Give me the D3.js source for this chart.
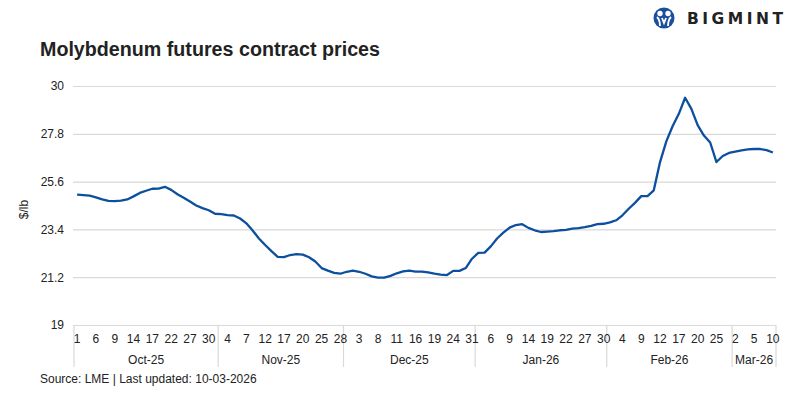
<!DOCTYPE html>
<html>
<head>
<meta charset="utf-8">
<script src="https://cdn.jsdelivr.net/npm/d3@7"></script>
<style>
  body { margin: 0; background: #fff; }
  svg text { font-family: "Liberation Sans", Arial, sans-serif; fill: #222; }
</style>
</head>
<body>
<figure id="chart" style="margin:0"></figure>
<script>
// month groups on the category axis and the LME trading days in each
const months = ["Oct-25", "Nov-25", "Dec-25", "Jan-26", "Feb-26", "Mar-26"];
const monthDays = [
  [1,2,3,6,7,8,9,10,13,14,15,16,17,20,21,22,23,24,27,28,29,30,31],
  [3,4,5,6,7,10,11,12,13,14,17,18,19,20,21,24,25,26,27,28],
  [1,2,3,4,5,8,9,10,11,12,15,16,17,18,19,22,23,24,29,30,31],
  [2,5,6,7,8,9,12,13,14,15,16,19,20,21,22,23,26,27,28,29,30],
  [2,3,4,5,6,9,10,11,12,13,16,17,18,19,20,23,24,25,26,27],
  [2,3,4,5,6,9,10]
];

// $/lb, one per trading day
const prices = [
  25.00,24.98,24.95,24.87,24.78,24.71,24.70,24.72,24.78,24.92,25.08,25.18,25.27,25.28,25.36,25.22,
  25.02,24.86,24.68,24.50,24.38,24.28,24.12,
  24.10,24.06,24.04,23.90,23.68,23.35,22.98,22.68,22.40,22.14,22.12,22.22,22.26,22.24,22.12,21.92,
  21.62,21.50,21.40,21.36,
  21.45,21.50,21.45,21.36,21.24,21.18,21.18,21.26,21.38,21.47,21.50,21.46,21.46,21.42,21.36,21.32,
  21.30,21.49,21.49,21.62,22.05,
  22.32,22.33,22.62,22.98,23.25,23.48,23.60,23.64,23.47,23.36,23.28,23.30,23.32,23.36,23.38,23.44,
  23.46,23.50,23.56,23.64,23.66,
  23.72,23.82,24.05,24.35,24.62,24.93,24.93,25.20,26.50,27.45,28.15,28.72,29.46,28.95,28.20,27.72,
  27.40,26.50,26.78,26.92,
  26.98,27.04,27.08,27.10,27.10,27.05,26.94
];

const yTicks = [19, 21.2, 23.4, 25.6, 27.8, 30];

const width = 800, height = 399;
const plotLeft = 74, plotRight = 776, plotTop = 86, plotBottom = 325;

// flatten month groups into one category list
var data = [];
var monthStart = [];
monthDays.forEach(function(ds, m) {
  monthStart.push(data.length);
  ds.forEach(function(d) {
    data.push({ month: m, day: d, i: data.length, price: prices[data.length] });
  });
});
monthStart.push(data.length);

const svg = d3.select("figure#chart")
  .append("svg")
  .attr("width", width)
  .attr("height", height);

const x = d3.scaleBand()
  .domain(d3.range(data.length))
  .range([plotLeft, plotRight]);

const y = d3.scaleLinear()
  .domain([19, 30])
  .range([plotBottom, plotTop]);

// horizontal gridlines
svg.append("g")
  .attr("transform", "translate(" + (plotLeft - 1) + ",0)")
  .call(d3.axisLeft(y).tickValues(yTicks).tickSize(-(plotRight - plotLeft + 1)).tickFormat(""))
  .call(g => g.select(".domain").remove())
  .selectAll("line")
  .attr("stroke", "#d9d9d9")
  .attr("stroke-width", 1.2);

// y tick labels
svg.append("g")
  .attr("transform", "translate(" + (plotLeft - 1) + ",0)")
  .call(d3.axisLeft(y).tickValues(yTicks).tickSize(0).tickPadding(9).tickFormat(d => d))
  .call(g => g.select(".domain").remove())
  .selectAll("text")
  .style("font-size", "12px")
  .attr("fill", "#222");

svg.append("text")
  .attr("transform", "translate(28," + ((plotTop + plotBottom) / 2 + 4) + ") rotate(-90)")
  .attr("text-anchor", "middle")
  .style("font-size", "12px")
  .text("$/lb");

// category axis: month separators
svg.selectAll(".sep")
  .data(monthStart)
  .enter()
  .append("line")
  .attr("x1", d => d < data.length ? x(d) : plotRight)
  .attr("x2", d => d < data.length ? x(d) : plotRight)
  .attr("y1", plotBottom)
  .attr("y2", 367)
  .attr("stroke", "#d9d9d9")
  .attr("stroke-width", 1.2);

// day labels, every third trading day
svg.selectAll(".day")
  .data(data.filter(d => d.i % 3 === 0))
  .enter()
  .append("text")
  .attr("x", d => x(d.i) + x.bandwidth() / 2)
  .attr("y", 343)
  .attr("text-anchor", "middle")
  .style("font-size", "12px")
  .text(d => d.day);

// month labels
svg.selectAll(".month")
  .data(months)
  .enter()
  .append("text")
  .attr("x", (d, m) => {
    var a = x(monthStart[m]);
    var b = monthStart[m + 1] < data.length ? x(monthStart[m + 1]) : plotRight;
    return (a + b) / 2;
  })
  .attr("y", 364)
  .attr("text-anchor", "middle")
  .style("font-size", "12px")
  .text(d => d);

// price line
const line = d3.line()
  .x(d => x(d.i) + x.bandwidth() / 2)
  .y(d => y(d.price));

svg.append("path")
  .datum(data)
  .attr("d", line)
  .attr("fill", "none")
  .attr("stroke", "#0c4f9e")
  .attr("stroke-width", 2.3)
  .attr("stroke-linejoin", "round");

// title and source
svg.append("text")
  .attr("x", 40)
  .attr("y", 56)
  .attr("textLength", 340)
  .attr("lengthAdjust", "spacingAndGlyphs")
  .style("font-size", "19.5px")
  .style("font-weight", "bold")
  .attr("fill", "#111")
  .text("Molybdenum futures contract prices");

svg.append("text")
  .attr("x", 40)
  .attr("y", 383)
  .style("font-size", "12px")
  .text("Source: LME | Last updated: 10-03-2026");

// logo
const logo = svg.append("g").attr("transform", "translate(664,18)");
logo.append("circle").attr("r", 10.5).attr("fill", "#1a4f9e");
logo.append("circle").attr("cx", -4).attr("cy", -4.5).attr("r", 2.7).attr("fill", "#fff");
logo.append("circle").attr("cx", 4).attr("cy", -4.5).attr("r", 2.7).attr("fill", "#fff");
logo.append("path")
  .attr("d", "M-7,-1 Q-4,2 -4,8 M7,-1 Q4,2 4,8 M-2,0 L0,5 L2,0")
  .attr("fill", "none")
  .attr("stroke", "#fff")
  .attr("stroke-width", 1.8);

svg.append("text")
  .attr("x", 687)
  .attr("y", 24)
  .attr("textLength", 96)
  .attr("lengthAdjust", "spacing")
  .style("font-size", "15.5px")
  .style("font-weight", "900")
  .style("font-family", "\"DejaVu Sans\", sans-serif")
  .attr("fill", "#1a4f9e")
  .text("BIGMINT");
</script>
</body>
</html>
